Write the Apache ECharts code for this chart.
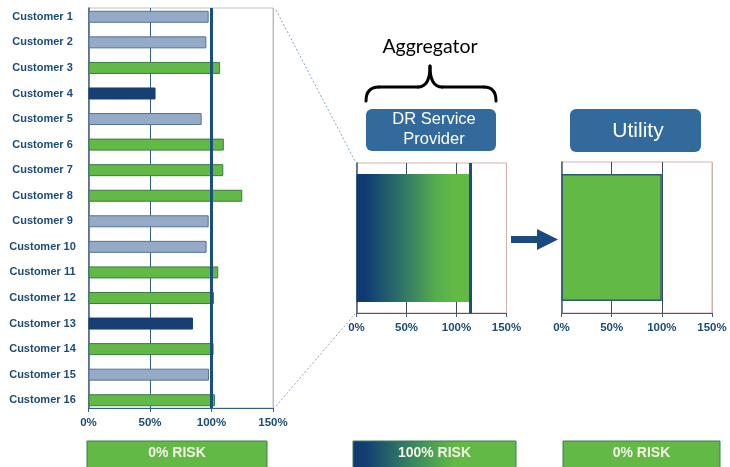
<!DOCTYPE html>
<html><head><meta charset="utf-8">
<script src="https://cdn.jsdelivr.net/npm/echarts@6/dist/echarts.min.js"></script>
<style>html,body{margin:0;padding:0;background:#fff}#c{width:730px;height:467px}</style>
</head><body><div id="c"></div>
<script>
// ---- data ----
const customers = ['Customer 1','Customer 2','Customer 3','Customer 4','Customer 5','Customer 6','Customer 7','Customer 8',
  'Customer 9','Customer 10','Customer 11','Customer 12','Customer 13','Customer 14','Customer 15','Customer 16'];
const loadPct = [97.7, 95.8, 107, 54.5, 92, 110, 109.6, 125, 97.7, 96, 105.5, 102, 85, 101.7, 98, 102.8];
const status = ['under','under','over','low','under','over','over','over','under','under','over','over','low','over','under','over'];
const aggregatorCat = ['Aggregator'];
const aggregatorPct = [113.5];
const utilityCat = ['Utility'];
const utilityPct = [100];
const xTicks = [0, 50, 100, 150];
const targetPct = [100];
const riskLabels = ['0% RISK', '100% RISK', '0% RISK'];
const boxTitles = ['DR Service\nProvider', 'Utility'];
const headerText = ['Aggregator'];

// ---- styles ----
const FONT = '"Liberation Sans", Arial, sans-serif';
const BLUE_TXT = '#1d4b78';
const statusStyle = {
  under: {color: '#95aac6', borderColor: '#56728f', borderWidth: 1},
  over:  {color: '#62b946', borderColor: '#3a7c40', borderWidth: 1},
  low:   {color: '#173f73', borderColor: '#173f73', borderWidth: 1}
};
const frameColor = '#cdb3b0';
const tickMin = xTicks[0], tickMax = xTicks[xTicks.length - 1], tickStep = xTicks[1] - xTicks[0];

function xAxisFor(gridIndex, splitColor, axisColor, hidden) {
  return {
    type: 'value', gridIndex, min: tickMin, max: tickMax, interval: tickStep, show: !hidden,
    axisLine: {show: true, lineStyle: {color: axisColor, width: 1}},
    axisTick: {show: true, length: 4, lineStyle: {color: axisColor}},
    axisLabel: {formatter: '{value}%', color: BLUE_TXT, fontWeight: 'bold', fontSize: 11.5, fontFamily: FONT, margin: 9},
    splitLine: {show: !hidden, lineStyle: {color: [frameColor, splitColor, splitColor, frameColor], width: 1}}
  };
}
function yAxisFor(gridIndex, cats, axisColor, extra) {
  return Object.assign({
    type: 'category', gridIndex, data: cats, inverse: true,
    axisLine: {show: true, lineStyle: {color: axisColor, width: 1.5}},
    axisTick: {show: false},
    axisLabel: {show: false},
    splitLine: {show: false}
  }, extra || {});
}
const thickLine = (v, color) => ({
  silent: true, symbol: 'none', label: {show: false},
  lineStyle: {color: color, width: 3, type: 'solid'},
  data: [{xAxis: v}]
});

const gradDR = {type: 'linear', x: 0, y: 0, x2: 1, y2: 0, colorStops: [
  {offset: 0, color: '#0c3a72'}, {offset: 0.08, color: '#0e3c72'}, {offset: 0.4, color: '#2f7366'},
  {offset: 0.7, color: '#55ad4c'}, {offset: 0.85, color: '#62b946'}, {offset: 1, color: '#62b946'}]};
const gradRisk = {type: 'linear', x: 0, y: 0, x2: 1, y2: 0, colorStops: [
  {offset: 0, color: '#0f3a72'}, {offset: 0.08, color: '#123f73'}, {offset: 0.38, color: '#3b8a5e'},
  {offset: 0.62, color: '#62b946'}, {offset: 1, color: '#62b946'}]};

function riskBox(x, w, text, fill) {
  return {type: 'group', children: [
    {type: 'rect', shape: {x: x, y: 441, width: w, height: 30}, style: {fill: fill, stroke: '#3a7c50', lineWidth: 1}},
    {type: 'text', x: x + w / 2, y: 453, style: {text: text, fill: '#f3f3e6', font: 'bold 14px ' + FONT, align: 'center', verticalAlign: 'middle'}}
  ]};
}
const braceStyle = {stroke: '#000', lineWidth: 3, fill: null, lineCap: 'round'};
const bracePieces = [
  {type: 'bezierCurve', shape: {x1: 366, y1: 101, cpx1: 366, cpy1: 87, x2: 379, y2: 87}, style: braceStyle},
  {type: 'line', shape: {x1: 379, y1: 87, x2: 418, y2: 87}, style: braceStyle},
  {type: 'bezierCurve', shape: {x1: 418, y1: 87, cpx1: 430, cpy1: 87, x2: 430, y2: 66}, style: braceStyle},
  {type: 'bezierCurve', shape: {x1: 430, y1: 66, cpx1: 430, cpy1: 87, x2: 442, y2: 87}, style: braceStyle},
  {type: 'line', shape: {x1: 442, y1: 87, x2: 484, y2: 87}, style: braceStyle},
  {type: 'bezierCurve', shape: {x1: 484, y1: 87, cpx1: 496, cpy1: 87, x2: 496, y2: 101}, style: braceStyle}
];

const chart = echarts.init(document.getElementById('c'), null, {renderer: 'canvas'});
chart.setOption({
  backgroundColor: '#ffffff',
  animation: false,
  grid: [
    // 0: left frame (axes, grid lines, 100% line)
    {left: 88.5, top: 8, width: 184.5, height: 400, show: true, borderColor: '#c9c2c2', borderWidth: 1, backgroundColor: 'transparent'},
    // 1: aggregator
    {left: 356.5, top: 163, width: 150, height: 150, show: true, borderColor: frameColor, borderWidth: 1, backgroundColor: 'transparent'},
    // 2: utility
    {left: 561.5, top: 162, width: 150.5, height: 151, show: true, borderColor: frameColor, borderWidth: 1, backgroundColor: 'transparent'},
    // 3: left customer bars (band layout)
    {left: 88.5, top: 4, width: 184.5, height: 409, show: false}
  ],
  xAxis: [
    xAxisFor(0, '#2f5f8a', '#2f5f8a'),
    xAxisFor(1, '#3b4a5a', '#4a5a6a'),
    xAxisFor(2, '#3b4a5a', '#4a5a6a'),
    xAxisFor(3, '#2f5f8a', '#2f5f8a', true)
  ],
  yAxis: [
    yAxisFor(0, customers, '#2f5f8a'),
    yAxisFor(1, aggregatorCat, '#3b5a7a'),
    yAxisFor(2, utilityCat, '#3b5a7a'),
    yAxisFor(3, customers, '#2f5f8a', {axisLine: {show: false},
      axisLabel: {show: true, align: 'center', margin: 46, color: BLUE_TXT, fontWeight: 'bold', fontSize: 11, fontFamily: FONT}})
  ],
  series: [
    {
      type: 'bar', xAxisIndex: 3, yAxisIndex: 3, barWidth: 12, z: 3,
      data: loadPct.map((v, i) => ({value: v, itemStyle: statusStyle[status[i]]}))
    },
    {
      type: 'line', xAxisIndex: 0, yAxisIndex: 0, data: [], z: 4,
      markLine: thickLine(targetPct[0], '#1a4f80')
    },
    {
      type: 'bar', xAxisIndex: 1, yAxisIndex: 1, barWidth: 128,
      data: aggregatorPct.map(v => ({value: v, itemStyle: {color: gradDR}})),
      markLine: thickLine(aggregatorPct[0], '#1a4f80')
    },
    {
      type: 'bar', xAxisIndex: 2, yAxisIndex: 2, barWidth: 127,
      data: utilityPct.map(v => ({value: v, itemStyle: {color: '#62b946', borderColor: '#2d5a6e', borderWidth: 1.5}}))
    }
  ],
  graphic: [
    {type: 'line', shape: {x1: 276, y1: 10, x2: 355, y2: 161}, style: {stroke: '#86a6c4', lineWidth: 1, lineDash: [2, 2]}},
    {type: 'line', shape: {x1: 276, y1: 406, x2: 355, y2: 314}, style: {stroke: '#86a6c4', lineWidth: 1, lineDash: [2, 2]}},
    {type: 'text', x: 430, y: 47, style: {text: headerText[0], fill: '#000', font: '19.5px Lato, "Open Sans", sans-serif', align: 'center', verticalAlign: 'middle'}},
    {type: 'group', children: bracePieces},
    {type: 'rect', shape: {x: 366, y: 109, width: 130, height: 42, r: 6}, style: {fill: '#316a9b'}},
    {type: 'text', x: 434, y: 129, style: {text: boxTitles[0], fill: '#fff', font: '16.5px "Liberation Sans", Arial, sans-serif', lineHeight: 20, align: 'center', verticalAlign: 'middle'}},
    {type: 'rect', shape: {x: 570, y: 109, width: 131, height: 43, r: 6}, style: {fill: '#316a9b'}},
    {type: 'text', x: 638, y: 131, style: {text: boxTitles[1], fill: '#fff', font: '21px "Liberation Sans", Arial, sans-serif', align: 'center', verticalAlign: 'middle'}},
    {type: 'polygon', shape: {points: [[511, 236], [537, 236], [537, 229], [558, 239.5], [537, 250], [537, 243], [511, 243]]}, style: {fill: '#1a4a80'}},
    riskBox(87, 180, riskLabels[0], '#62b946'),
    riskBox(353, 163, riskLabels[1], gradRisk),
    riskBox(563, 157, riskLabels[2], '#62b946')
  ]
});
</script>
</body></html>
